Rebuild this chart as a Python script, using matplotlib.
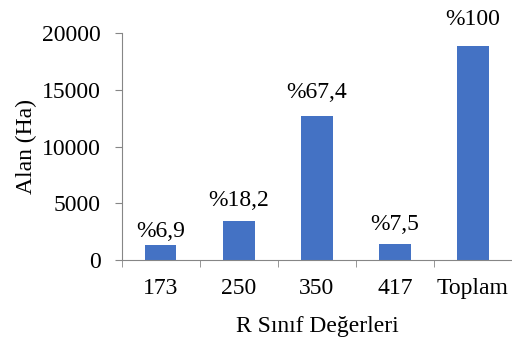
import matplotlib
matplotlib.use("Agg")
import matplotlib.pyplot as plt
import numpy as np

plt.rcParams["font.family"] = ["Liberation Serif", "DejaVu Serif"]

categories = ["173", "250", "350", "417", "Toplam"]
area_ha = [1300, 3400, 12720, 1410, 18860]
pct_labels = ["%6,9", "%18,2", "%67,4", "%7,5", "%100"]

# label gap above each bar (points), as placed in the original
label_gaps = [6, 11, 13, 10, 15]

bar_color = "#4472C4"
axis_color = "#868686"
fs = 17

fig = plt.figure(figsize=(5.12, 3.4), dpi=100)
ax = fig.add_axes([0.238, 0.235, 0.762, 0.668])

x = np.arange(len(categories))
bars = ax.bar(x, area_ha, width=0.4, color=bar_color, zorder=2)

for rect, lab, gap in zip(bars, pct_labels, label_gaps):
    ax.annotate(lab, (rect.get_x() + rect.get_width() / 2, rect.get_height()),
                xytext=(0, gap), textcoords="offset points",
                ha="center", va="baseline", fontsize=fs)

ax.set_xlim(-0.5, len(categories) - 0.5)
ax.set_ylim(0, 20000)
ax.set_yticks([0, 5000, 10000, 15000, 20000])
ax.set_xticks(x)
ax.set_xticklabels(categories)
ax.set_xticks(np.arange(len(categories) + 1) - 0.5, minor=True)

ax.tick_params(axis="x", which="major", length=0, pad=13, labelsize=fs)
ax.tick_params(axis="x", which="minor", length=5, color=axis_color)
ax.tick_params(axis="y", length=5, color=axis_color, labelsize=fs, pad=10)

for side in ["top", "right"]:
    ax.spines[side].set_visible(False)
for side in ["left", "bottom"]:
    ax.spines[side].set_color(axis_color)

ax.set_xlabel("R Sınıf Değerleri", fontsize=fs, labelpad=12)
ax.set_ylabel("Alan (Ha)", fontsize=fs, labelpad=4)

fig.savefig("out.png", dpi=100)
